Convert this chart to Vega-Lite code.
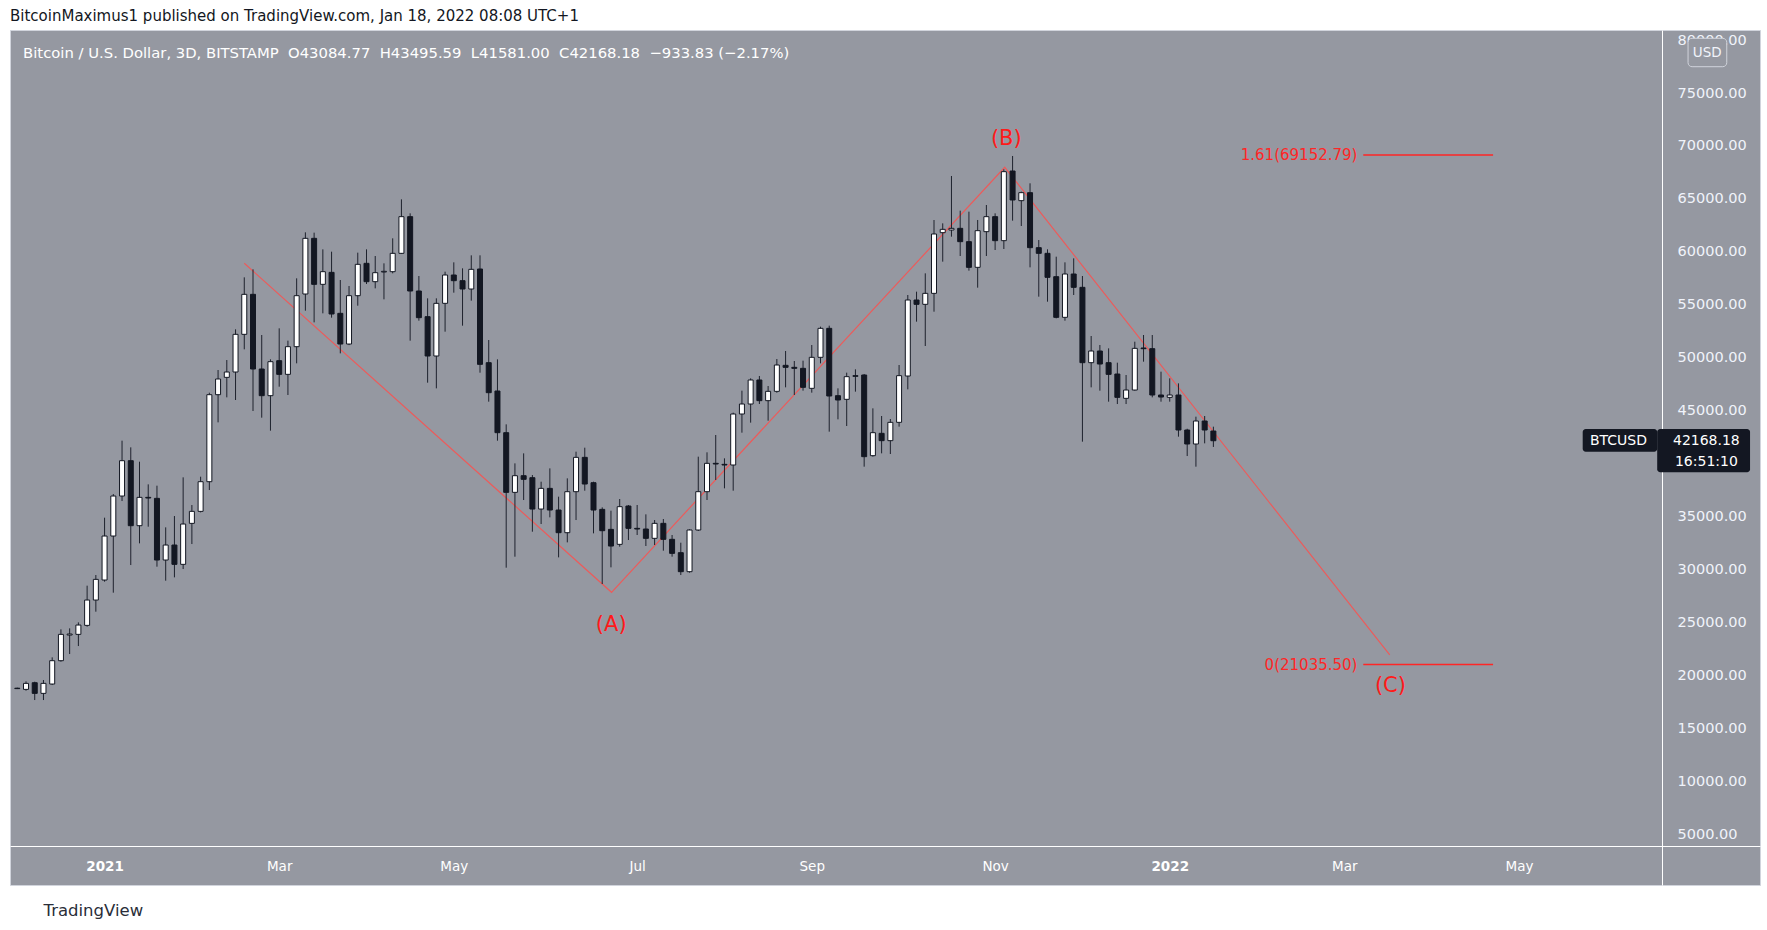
{
  "$schema": "https://vega.github.io/schema/vega-lite/v6.json",
  "width": 1750,
  "height": 855,
  "autosize": "none",
  "padding": {"left": 10, "top": 30, "right": 7, "bottom": 45},
  "background": "#ffffff",
  "config": {"view": {"fill": "#9598a1", "stroke": "#d1d4dc", "strokeWidth": 1}, "font": "DejaVu Sans"},
  "title": {"text": "BitcoinMaximus1 published on TradingView.com, Jan 18, 2022 08:08 UTC+1", "anchor": "start", "frame": "group", "offset": 10, "dy": 16, "baseline": "alphabetic", "fontSize": 15, "fontWeight": "normal", "font": "DejaVu Sans", "color": "#131722"},
  "datasets": {
    "candles": [
      {"t": "2020-12-01", "o": 18800, "h": 18850, "l": 18720, "c": 18760},
      {"t": "2020-12-04", "o": 18688, "h": 19444, "l": 18562, "c": 19255},
      {"t": "2020-12-07", "o": 19318, "h": 19413, "l": 17681, "c": 18311},
      {"t": "2020-12-10", "o": 18311, "h": 19570, "l": 17681, "c": 19255},
      {"t": "2020-12-13", "o": 19192, "h": 21712, "l": 19097, "c": 21397},
      {"t": "2020-12-16", "o": 21397, "h": 24355, "l": 21300, "c": 23883},
      {"t": "2020-12-19", "o": 23820, "h": 24450, "l": 22026, "c": 23915},
      {"t": "2020-12-22", "o": 23883, "h": 25016, "l": 22781, "c": 24764},
      {"t": "2020-12-25", "o": 24733, "h": 28480, "l": 24607, "c": 27125},
      {"t": "2020-12-28", "o": 27125, "h": 29486, "l": 26023, "c": 29077},
      {"t": "2020-12-31", "o": 29014, "h": 34900, "l": 28857, "c": 33169},
      {"t": "2021-01-03", "o": 33169, "h": 37136, "l": 27819, "c": 36947},
      {"t": "2021-01-06", "o": 36947, "h": 42173, "l": 36474, "c": 40283},
      {"t": "2021-01-09", "o": 40283, "h": 41543, "l": 30430, "c": 34145},
      {"t": "2021-01-12", "o": 34145, "h": 40189, "l": 32477, "c": 36821},
      {"t": "2021-01-15", "o": 36821, "h": 38049, "l": 34050, "c": 36758},
      {"t": "2021-01-18", "o": 36727, "h": 37923, "l": 30273, "c": 30903},
      {"t": "2021-01-21", "o": 30903, "h": 33988, "l": 28951, "c": 32319},
      {"t": "2021-01-24", "o": 32319, "h": 35058, "l": 29266, "c": 30494},
      {"t": "2021-01-27", "o": 30494, "h": 38710, "l": 30053, "c": 34302},
      {"t": "2021-01-30", "o": 34365, "h": 36097, "l": 32414, "c": 35499},
      {"t": "2021-02-02", "o": 35499, "h": 38772, "l": 35400, "c": 38300},
      {"t": "2021-02-05", "o": 38300, "h": 46705, "l": 37513, "c": 46517},
      {"t": "2021-02-08", "o": 46517, "h": 48846, "l": 43904, "c": 47996},
      {"t": "2021-02-11", "o": 48153, "h": 49790, "l": 46265, "c": 48657},
      {"t": "2021-02-14", "o": 48657, "h": 52687, "l": 46013, "c": 52215},
      {"t": "2021-02-17", "o": 52215, "h": 57598, "l": 50798, "c": 55992},
      {"t": "2021-02-20", "o": 55992, "h": 58353, "l": 44975, "c": 48941},
      {"t": "2021-02-23", "o": 48941, "h": 52152, "l": 44345, "c": 46422},
      {"t": "2021-02-26", "o": 46422, "h": 49854, "l": 43117, "c": 49633},
      {"t": "2021-03-01", "o": 49728, "h": 52781, "l": 47272, "c": 48437},
      {"t": "2021-03-04", "o": 48437, "h": 51617, "l": 46485, "c": 51050},
      {"t": "2021-03-07", "o": 51050, "h": 57503, "l": 49476, "c": 55866},
      {"t": "2021-03-10", "o": 56024, "h": 61847, "l": 54450, "c": 61281},
      {"t": "2021-03-13", "o": 61280, "h": 61816, "l": 53347, "c": 56936},
      {"t": "2021-03-16", "o": 56936, "h": 60241, "l": 54198, "c": 58132},
      {"t": "2021-03-19", "o": 58069, "h": 60021, "l": 53788, "c": 54135},
      {"t": "2021-03-22", "o": 54198, "h": 57345, "l": 50420, "c": 51301},
      {"t": "2021-03-25", "o": 51301, "h": 56779, "l": 51200, "c": 55866},
      {"t": "2021-03-28", "o": 55866, "h": 59927, "l": 54921, "c": 58825},
      {"t": "2021-03-31", "o": 58919, "h": 60241, "l": 56968, "c": 57188},
      {"t": "2021-04-03", "o": 57188, "h": 59612, "l": 56558, "c": 58038},
      {"t": "2021-04-06", "o": 58101, "h": 58919, "l": 55520, "c": 58164},
      {"t": "2021-04-09", "o": 58132, "h": 61280, "l": 57975, "c": 59864},
      {"t": "2021-04-12", "o": 59864, "h": 64964, "l": 59800, "c": 63327},
      {"t": "2021-04-15", "o": 63327, "h": 63641, "l": 51616, "c": 56307},
      {"t": "2021-04-18", "o": 56307, "h": 57723, "l": 53505, "c": 53788},
      {"t": "2021-04-21", "o": 53883, "h": 55614, "l": 47650, "c": 50168},
      {"t": "2021-04-24", "o": 50168, "h": 55614, "l": 47115, "c": 55142},
      {"t": "2021-04-27", "o": 55142, "h": 58132, "l": 52466, "c": 57818},
      {"t": "2021-04-30", "o": 57818, "h": 59014, "l": 56149, "c": 57282},
      {"t": "2021-05-03", "o": 57282, "h": 58447, "l": 53033, "c": 56496},
      {"t": "2021-05-06", "o": 56496, "h": 59675, "l": 55394, "c": 58353},
      {"t": "2021-05-09", "o": 58384, "h": 59675, "l": 48594, "c": 49381},
      {"t": "2021-05-12", "o": 49538, "h": 51679, "l": 45855, "c": 46705},
      {"t": "2021-05-15", "o": 46863, "h": 49853, "l": 42172, "c": 42928},
      {"t": "2021-05-18", "o": 42928, "h": 43715, "l": 30178, "c": 37293},
      {"t": "2021-05-21", "o": 37293, "h": 40031, "l": 31217, "c": 38866},
      {"t": "2021-05-24", "o": 38866, "h": 40976, "l": 36569, "c": 38521},
      {"t": "2021-05-27", "o": 38678, "h": 38930, "l": 33578, "c": 35718},
      {"t": "2021-05-30", "o": 35718, "h": 38300, "l": 34302, "c": 37670},
      {"t": "2021-06-02", "o": 37670, "h": 39559, "l": 34932, "c": 35624},
      {"t": "2021-06-05", "o": 35624, "h": 36884, "l": 31154, "c": 33483},
      {"t": "2021-06-08", "o": 33483, "h": 38615, "l": 32571, "c": 37356},
      {"t": "2021-06-11", "o": 37356, "h": 41134, "l": 34680, "c": 40598},
      {"t": "2021-06-14", "o": 40598, "h": 41511, "l": 37450, "c": 38080},
      {"t": "2021-06-17", "o": 38206, "h": 38300, "l": 33421, "c": 35624},
      {"t": "2021-06-20", "o": 35687, "h": 35876, "l": 28637, "c": 33672},
      {"t": "2021-06-23", "o": 33798, "h": 35562, "l": 30211, "c": 32224},
      {"t": "2021-06-26", "o": 32383, "h": 36664, "l": 32163, "c": 35940},
      {"t": "2021-06-29", "o": 36003, "h": 36098, "l": 32792, "c": 33894},
      {"t": "2021-07-02", "o": 33894, "h": 36098, "l": 33265, "c": 33831},
      {"t": "2021-07-05", "o": 33831, "h": 35216, "l": 32226, "c": 32951},
      {"t": "2021-07-08", "o": 32951, "h": 34681, "l": 32320, "c": 34366},
      {"t": "2021-07-11", "o": 34366, "h": 34776, "l": 31785, "c": 32856},
      {"t": "2021-07-14", "o": 32856, "h": 33265, "l": 31218, "c": 31533},
      {"t": "2021-07-17", "o": 31597, "h": 32540, "l": 29487, "c": 29803},
      {"t": "2021-07-20", "o": 29803, "h": 33800, "l": 29707, "c": 33737},
      {"t": "2021-07-23", "o": 33737, "h": 40662, "l": 33643, "c": 37357},
      {"t": "2021-07-26", "o": 37357, "h": 41072, "l": 36570, "c": 40033},
      {"t": "2021-07-29", "o": 40033, "h": 42709, "l": 38459, "c": 39970},
      {"t": "2021-08-01", "o": 39938, "h": 40505, "l": 37672, "c": 39876},
      {"t": "2021-08-04", "o": 39876, "h": 44818, "l": 37452, "c": 44692},
      {"t": "2021-08-07", "o": 44692, "h": 46895, "l": 42929, "c": 45636},
      {"t": "2021-08-10", "o": 45636, "h": 48060, "l": 43874, "c": 47903},
      {"t": "2021-08-13", "o": 47903, "h": 48281, "l": 45636, "c": 45951},
      {"t": "2021-08-16", "o": 45951, "h": 47336, "l": 44062, "c": 46832},
      {"t": "2021-08-19", "o": 46832, "h": 49886, "l": 46700, "c": 49319},
      {"t": "2021-08-22", "o": 49288, "h": 50642, "l": 47210, "c": 49099},
      {"t": "2021-08-25", "o": 49099, "h": 49697, "l": 46486, "c": 49005},
      {"t": "2021-08-28", "o": 49005, "h": 49729, "l": 46896, "c": 47210},
      {"t": "2021-08-31", "o": 47116, "h": 51208, "l": 46707, "c": 50044},
      {"t": "2021-09-03", "o": 50044, "h": 52940, "l": 49477, "c": 52782},
      {"t": "2021-09-06", "o": 52782, "h": 53034, "l": 43024, "c": 46392},
      {"t": "2021-09-09", "o": 46423, "h": 47116, "l": 44188, "c": 46014},
      {"t": "2021-09-12", "o": 46077, "h": 48596, "l": 43559, "c": 48218},
      {"t": "2021-09-15", "o": 48312, "h": 48910, "l": 46801, "c": 48249},
      {"t": "2021-09-18", "o": 48375, "h": 48470, "l": 39718, "c": 40663},
      {"t": "2021-09-21", "o": 40757, "h": 45227, "l": 40663, "c": 42929},
      {"t": "2021-09-24", "o": 42866, "h": 44503, "l": 40977, "c": 42174},
      {"t": "2021-09-27", "o": 42174, "h": 44220, "l": 40914, "c": 43905},
      {"t": "2021-09-30", "o": 43905, "h": 49319, "l": 43496, "c": 48312},
      {"t": "2021-10-03", "o": 48279, "h": 55929, "l": 47020, "c": 55457},
      {"t": "2021-10-06", "o": 55457, "h": 56244, "l": 53411, "c": 55048},
      {"t": "2021-10-09", "o": 55048, "h": 57975, "l": 51113, "c": 56086},
      {"t": "2021-10-12", "o": 56086, "h": 63012, "l": 54355, "c": 61690},
      {"t": "2021-10-15", "o": 61816, "h": 62697, "l": 59077, "c": 62130},
      {"t": "2021-10-18", "o": 62067, "h": 67167, "l": 61438, "c": 62225},
      {"t": "2021-10-21", "o": 62225, "h": 63893, "l": 59612, "c": 60966},
      {"t": "2021-10-24", "o": 60966, "h": 63799, "l": 58227, "c": 58542},
      {"t": "2021-10-27", "o": 58542, "h": 63012, "l": 56622, "c": 62005},
      {"t": "2021-10-30", "o": 61910, "h": 64428, "l": 59612, "c": 63327},
      {"t": "2021-11-02", "o": 63327, "h": 63642, "l": 60179, "c": 61060},
      {"t": "2021-11-05", "o": 61060, "h": 67797, "l": 60273, "c": 67576},
      {"t": "2021-11-08", "o": 67639, "h": 69056, "l": 62949, "c": 64901},
      {"t": "2021-11-11", "o": 64838, "h": 65688, "l": 62445, "c": 65593},
      {"t": "2021-11-14", "o": 65593, "h": 66475, "l": 58542, "c": 60399},
      {"t": "2021-11-17", "o": 60399, "h": 61123, "l": 55772, "c": 59864},
      {"t": "2021-11-20", "o": 59864, "h": 60242, "l": 55299, "c": 57597},
      {"t": "2021-11-23", "o": 57660, "h": 59549, "l": 53725, "c": 53820},
      {"t": "2021-11-26", "o": 53820, "h": 59014, "l": 53505, "c": 57912},
      {"t": "2021-11-29", "o": 57912, "h": 59392, "l": 55929, "c": 56653},
      {"t": "2021-12-02", "o": 56653, "h": 57723, "l": 42078, "c": 49538},
      {"t": "2021-12-05", "o": 49538, "h": 52057, "l": 47209, "c": 50640},
      {"t": "2021-12-08", "o": 50640, "h": 51207, "l": 46894, "c": 49412},
      {"t": "2021-12-11", "o": 49538, "h": 50892, "l": 45856, "c": 48436},
      {"t": "2021-12-14", "o": 48468, "h": 49538, "l": 45635, "c": 46264},
      {"t": "2021-12-17", "o": 46170, "h": 48374, "l": 45635, "c": 46957},
      {"t": "2021-12-20", "o": 46957, "h": 51521, "l": 46894, "c": 50892},
      {"t": "2021-12-23", "o": 50924, "h": 52151, "l": 49633, "c": 50861},
      {"t": "2021-12-26", "o": 50861, "h": 52151, "l": 46264, "c": 46485},
      {"t": "2021-12-29", "o": 46485, "h": 48689, "l": 45856, "c": 46296},
      {"t": "2022-01-01", "o": 46264, "h": 48059, "l": 45856, "c": 46485},
      {"t": "2022-01-04", "o": 46485, "h": 47587, "l": 42550, "c": 43180},
      {"t": "2022-01-07", "o": 43180, "h": 43300, "l": 40724, "c": 41858},
      {"t": "2022-01-10", "o": 41858, "h": 44439, "l": 39717, "c": 44030},
      {"t": "2022-01-13", "o": 44030, "h": 44502, "l": 41921, "c": 43180},
      {"t": "2022-01-16", "o": 43084.77, "h": 43495.59, "l": 41581.0, "c": 42168.18}
    ]
  },
  "encoding": {
    "x": {
      "field": "t", "type": "temporal",
      "scale": {"type": "utc", "domain": [{"year": 2020, "month": 11, "date": 30, "hours": 5, "minutes": 17, "utc": true}, {"year": 2022, "month": 7, "date": 21, "hours": 2, "minutes": 30, "utc": true}]},
      "axis": {
        "orient": "bottom", "offset": -39,
        "values": [
          {"year": 2020, "month": 12, "date": 31, "utc": true},
          {"year": 2021, "month": 3, "date": 1, "utc": true},
          {"year": 2021, "month": 4, "date": 30, "utc": true},
          {"year": 2021, "month": 7, "date": 2, "utc": true},
          {"year": 2021, "month": 8, "date": 31, "utc": true},
          {"year": 2021, "month": 11, "date": 2, "utc": true},
          {"year": 2022, "month": 1, "date": 1, "utc": true},
          {"year": 2022, "month": 3, "date": 2, "utc": true},
          {"year": 2022, "month": 5, "date": 1, "utc": true}
        ],
        "labelExpr": "utcmonth(datum.value) == 11 ? '2021' : (utcmonth(datum.value) == 3 ? 'May' : (utcmonth(datum.value) == 7 ? 'Sep' : (utcmonth(datum.value) == 0 ? utcFormat(datum.value, '%Y') : utcFormat(datum.value, '%b'))))",
        "labelFontWeight": {"condition": {"test": "utcmonth(datum.value) == 11 || utcmonth(datum.value) == 0", "value": "bold"}, "value": "normal"},
        "labelColor": "#ffffff", "labelFontSize": 13.5, "labelFont": "DejaVu Sans",
        "labelPadding": 20, "labelBaseline": "middle", "labelOverlap": false, "labelBound": false, "labelFlush": false,
        "ticks": false, "tickSize": 0, "grid": false,
        "domainColor": "#ffffff", "domainWidth": 1,
        "title": "TradingView", "titleX": 33, "titleY": 64, "titleAlign": "left", "titleBaseline": "middle",
        "titleFontSize": 16.5, "titleFontWeight": "normal", "titleColor": "#2a2e39", "titleFont": "DejaVu Sans"
      }
    },
    "y": {
      "field": "p", "type": "quantitative",
      "scale": {"domain": [215, 80954], "nice": false, "zero": false},
      "axis": {
        "orient": "right", "offset": -98,
        "values": [5000, 10000, 15000, 20000, 25000, 30000, 35000, 45000, 50000, 55000, 60000, 65000, 70000, 75000, 80000],
        "format": ".2f",
        "labelColor": "#f0f3fa", "labelFontSize": 14.5, "labelFont": "DejaVu Sans",
        "labelAlign": "left", "labelBaseline": "middle", "labelPadding": 15,
        "labelOverlap": false, "labelBound": false, "labelFlush": false,
        "ticks": false, "tickSize": 0, "grid": false,
        "domainColor": "#ffffff", "domainWidth": 1, "title": null
      }
    }
  },
  "layer": [
    {
      "data": {"values": [
        {"t": "2021-02-17T00:00:00Z", "p": 58923},
        {"t": "2021-06-23T04:48:00Z", "p": 27856},
        {"t": "2021-11-05T07:12:00Z", "p": 67989},
        {"t": "2022-03-17T14:24:00Z", "p": 21935}
      ]},
      "mark": {"type": "line", "color": "#ec5b5b", "strokeWidth": 1.2},
      "encoding": {}
    },
    {
      "data": {"values": [
        {"t": "2022-03-08T12:00:00Z", "t2": "2022-04-22T02:24:00Z", "p": 69152.79},
        {"t": "2022-03-08T12:00:00Z", "t2": "2022-04-22T02:24:00Z", "p": 21035.5}
      ]},
      "mark": {"type": "rule", "color": "#ff2626", "strokeWidth": 1.5},
      "encoding": {"x2": {"field": "t2"}}
    },
    {
      "data": {"name": "candles"},
      "mark": {"type": "rule", "color": "#1e222d", "strokeWidth": 1, "clip": true},
      "encoding": {
        "y": {"field": "l", "type": "quantitative",
          "scale": {"domain": [215, 80954], "nice": false, "zero": false},
          "axis": {
            "orient": "right", "offset": -98,
            "values": [5000, 10000, 15000, 20000, 25000, 30000, 35000, 45000, 50000, 55000, 60000, 65000, 70000, 75000, 80000],
            "format": ".2f",
            "labelColor": "#f0f3fa", "labelFontSize": 14.5, "labelFont": "DejaVu Sans",
            "labelAlign": "left", "labelBaseline": "middle", "labelPadding": 15,
            "labelOverlap": false, "labelBound": false, "labelFlush": false,
            "ticks": false, "tickSize": 0, "grid": false,
            "domainColor": "#ffffff", "domainWidth": 1, "title": null
          }
        },
        "y2": {"field": "h"}
      }
    },
    {
      "data": {"name": "candles"},
      "mark": {"type": "bar", "size": 5, "stroke": "#131722", "strokeWidth": 1, "clip": true},
      "encoding": {
        "y": {"field": "o", "type": "quantitative",
          "scale": {"domain": [215, 80954], "nice": false, "zero": false},
          "axis": {
            "orient": "right", "offset": -98,
            "values": [5000, 10000, 15000, 20000, 25000, 30000, 35000, 45000, 50000, 55000, 60000, 65000, 70000, 75000, 80000],
            "format": ".2f",
            "labelColor": "#f0f3fa", "labelFontSize": 14.5, "labelFont": "DejaVu Sans",
            "labelAlign": "left", "labelBaseline": "middle", "labelPadding": 15,
            "labelOverlap": false, "labelBound": false, "labelFlush": false,
            "ticks": false, "tickSize": 0, "grid": false,
            "domainColor": "#ffffff", "domainWidth": 1, "title": null
          }
        },
        "y2": {"field": "c"},
        "color": {"condition": {"test": "datum.c >= datum.o", "value": "#ffffff"}, "value": "#131722"}
      }
    },
    {
      "data": {"values": [
        {"t": "2021-06-23T02:00:00Z", "p": 24800, "label": "(A)"},
        {"t": "2021-11-05T20:00:00Z", "p": 70650, "label": "(B)"},
        {"t": "2022-03-17T20:00:00Z", "p": 19008, "label": "(C)"}
      ]},
      "mark": {"type": "text", "color": "#ff1a1a", "fontSize": 21, "font": "DejaVu Sans", "align": "center", "baseline": "middle"},
      "encoding": {"text": {"field": "label"}}
    },
    {
      "data": {"values": [
        {"t": "2022-03-06T12:00:00Z", "p": 69152.79, "label": "1.61(69152.79)"},
        {"t": "2022-03-06T12:00:00Z", "p": 21035.5, "label": "0(21035.50)"}
      ]},
      "mark": {"type": "text", "color": "#ff2626", "fontSize": 15, "font": "DejaVu Sans", "align": "right", "baseline": "middle"},
      "encoding": {"text": {"field": "label"}}
    },
    {
      "data": {"values": [
        {"t": "2020-12-03T00:00:00Z", "p": 78688, "label": "Bitcoin / U.S. Dollar, 3D, BITSTAMP\u00a0\u00a0O43084.77\u00a0\u00a0H43495.59\u00a0\u00a0L41581.00\u00a0\u00a0C42168.18\u00a0\u00a0\u2212933.83 (\u22122.17%)"}
      ]},
      "mark": {"type": "text", "color": "#ffffff", "fontSize": 14.8, "font": "DejaVu Sans", "align": "left", "baseline": "middle"},
      "encoding": {"text": {"field": "label"}}
    },
    {
      "data": {"values": [
        {"t": "2022-05-22T21:36:00Z", "t2": "2022-06-17T12:00:00Z", "p": 41133, "p2": 43276},
        {"t": "2022-06-17T12:00:00Z", "t2": "2022-07-19T09:36:00Z", "p": 39188, "p2": 43276}
      ]},
      "mark": {"type": "rect", "color": "#131722", "cornerRadius": 3},
      "encoding": {"x2": {"field": "t2"}, "y2": {"field": "p2"}}
    },
    {
      "data": {"values": [
        {"t": "2022-06-04T05:00:00Z", "p": 42172, "label": "BTCUSD"},
        {"t": "2022-07-04T09:36:00Z", "p": 42172, "label": "42168.18"},
        {"t": "2022-07-04T09:36:00Z", "p": 40188, "label": "16:51:10"}
      ]},
      "mark": {"type": "text", "color": "#ffffff", "fontSize": 14, "font": "DejaVu Sans", "align": "center", "baseline": "middle"},
      "encoding": {"text": {"field": "label"}}
    },
    {
      "data": {"values": [
        {"t": "2022-06-28T02:24:00Z", "t2": "2022-07-11T09:36:00Z", "p": 77488, "p2": 80170}
      ]},
      "mark": {"type": "rect", "fill": "#9598a1", "stroke": "#d1d4dc", "strokeWidth": 1, "cornerRadius": 4},
      "encoding": {"x2": {"field": "t2"}, "y2": {"field": "p2"}}
    },
    {
      "data": {"values": [
        {"t": "2022-07-04T16:48:00Z", "p": 78754, "label": "USD"}
      ]},
      "mark": {"type": "text", "color": "#f0f3fa", "fontSize": 13.5, "font": "DejaVu Sans", "align": "center", "baseline": "middle"},
      "encoding": {"text": {"field": "label"}}
    }
  ]
}
